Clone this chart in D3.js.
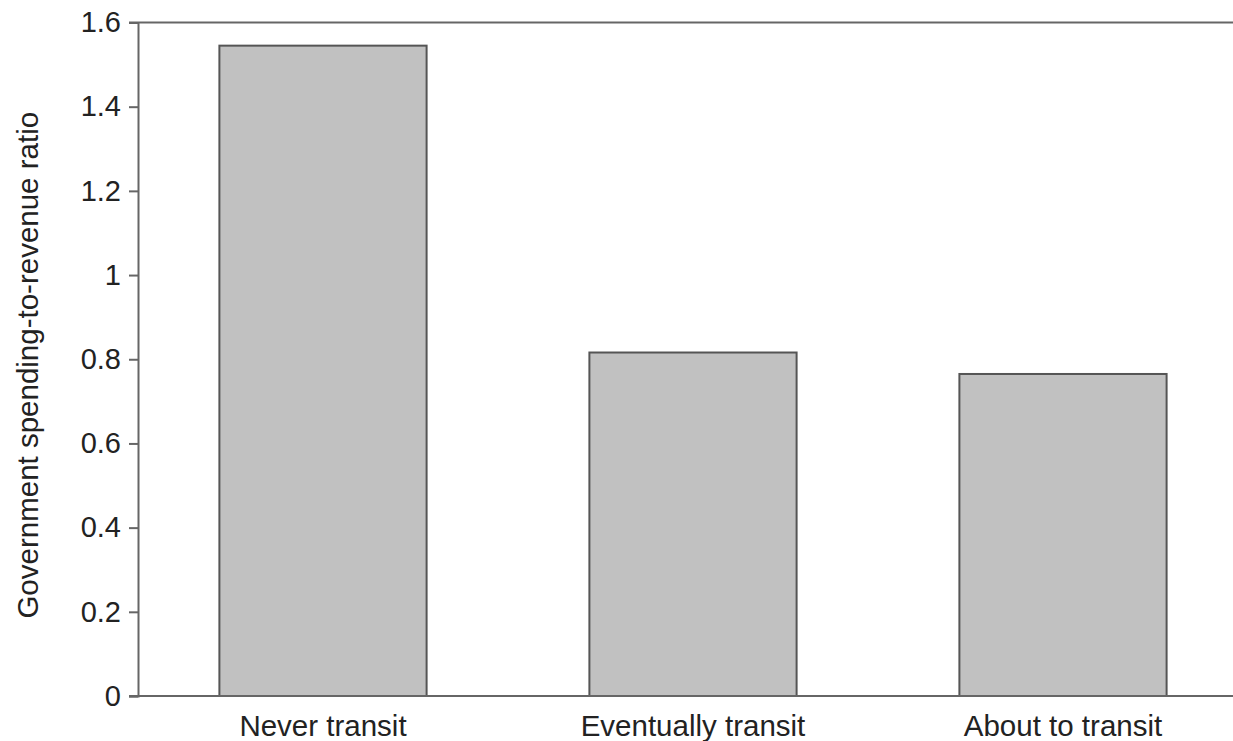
<!DOCTYPE html>
<html><head><meta charset="utf-8">
<script src="https://cdn.jsdelivr.net/npm/d3@7"></script>
<style>body{margin:0;background:#fff}svg{display:block}</style>
</head><body>
<svg id="c" width="1233" height="741"></svg>
<script>
const categories = ["Never transit", "Eventually transit", "About to transit"];
const values = [1.545, 0.816, 0.765];
const yTicks = [0, 0.2, 0.4, 0.6, 0.8, 1, 1.2, 1.4, 1.6];
const yTitle = "Government spending-to-revenue ratio";

(function () {
const svg = d3.select("#c");
const font = "'Liberation Sans', Arial, Helvetica, sans-serif";
const mLeft = 138, mRight = 1248, mTop = 22.5, mBottom = 696;

const x = d3.scaleBand().domain(categories).range([mLeft, mRight]).paddingInner(0.44).paddingOuter(0.22);
const y = d3.scaleLinear().domain([0, 1.6]).range([mBottom, mTop]);

// bars
svg.append("g").selectAll("rect").data(values).join("rect")
  .attr("x", (d, i) => x(categories[i]))
  .attr("width", x.bandwidth())
  .attr("y", d => y(d))
  .attr("height", d => y(0) - y(d))
  .attr("fill", "#c1c1c1")
  .attr("stroke", "#555")
  .attr("stroke-width", 2);

// y axis
const ya = svg.append("g").attr("transform", `translate(${mLeft},0)`)
  .call(d3.axisLeft(y).tickValues(yTicks).tickFormat(d => String(+d.toFixed(1))).tickSize(9).tickPadding(8));
ya.select(".domain").attr("stroke", "#666").attr("stroke-width", 2);
ya.selectAll(".tick line").attr("stroke", "#666").attr("stroke-width", 2);
ya.selectAll(".tick text").attr("font-family", font).attr("font-size", 29).attr("fill", "#222");

// frame lines: top and bottom extending to the right edge
svg.append("line").attr("x1", mLeft - 9).attr("x2", 1233).attr("y1", y(1.6)).attr("y2", y(1.6))
  .attr("stroke", "#666").attr("stroke-width", 2);
svg.append("line").attr("x1", mLeft - 9).attr("x2", 1233).attr("y1", y(0)).attr("y2", y(0))
  .attr("stroke", "#666").attr("stroke-width", 2);

// x labels
svg.append("g").selectAll("text").data(categories).join("text")
  .attr("x", d => x(d) + x.bandwidth() / 2)
  .attr("y", 736)
  .attr("text-anchor", "middle")
  .attr("font-family", font).attr("font-size", 29.5).attr("fill", "#222")
  .text(d => d);

// y title
svg.append("text")
  .attr("transform", `translate(38,${(mTop + mBottom) / 2 + 6}) rotate(-90)`)
  .attr("text-anchor", "middle")
  .attr("font-family", font).attr("font-size", 29.5).attr("fill", "#222")
  .text(yTitle);
})();
</script>
</body></html>
